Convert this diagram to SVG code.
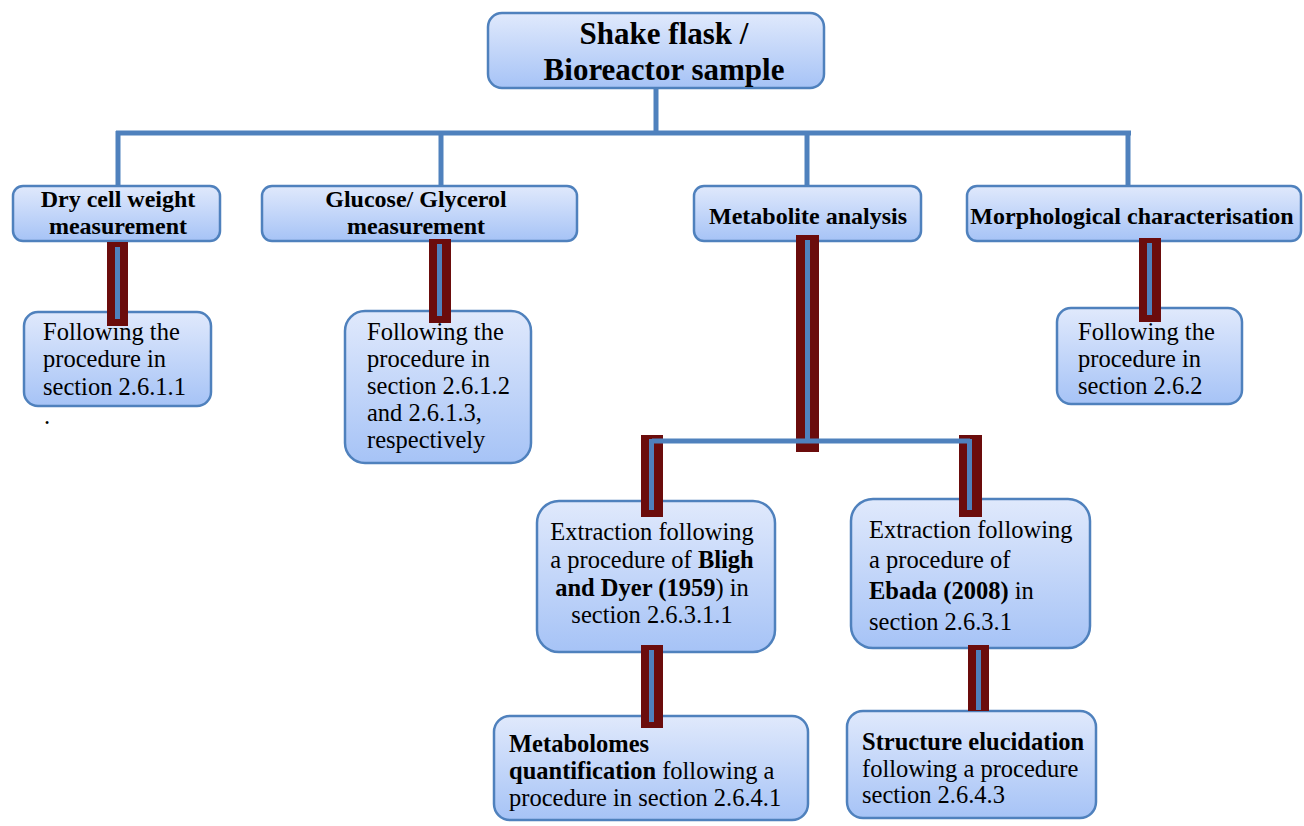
<svg xmlns="http://www.w3.org/2000/svg" width="1304" height="826" viewBox="0 0 1304 826">
<defs>
<linearGradient id="g" x1="0" y1="0" x2="0" y2="1">
<stop offset="0" stop-color="#e0e9fc"/>
<stop offset="1" stop-color="#a6c3f6"/>
</linearGradient>
<style>
.box{fill:url(#g);stroke:#4f81bd;stroke-width:2.5}
.t{font-family:"Liberation Serif","DejaVu Serif",serif;font-size:24.5px;fill:#000}
.h{font-family:"Liberation Serif","DejaVu Serif",serif;font-size:24px;font-weight:bold;fill:#000}
.title{font-family:"Liberation Serif","DejaVu Serif",serif;font-size:31px;font-weight:bold;fill:#000}
.b{font-weight:bold}
.ln{stroke:#4f81bd;stroke-width:5;fill:none}
.mr{fill:#6b0c0c}
.in{fill:#4f81bd}
</style>
</defs>
<rect width="1304" height="826" fill="#fff"/>

<g id="n-top">
<rect class="box" x="488" y="13" width="336" height="75" rx="14"/>
<text class="title" x="664" y="44" text-anchor="middle">Shake flask /</text>
<text class="title" x="664" y="80" text-anchor="middle">Bioreactor sample</text>
</g>

<g id="n-dry">
<rect class="box" x="13" y="186" width="207" height="55" rx="10"/>
<text class="h" x="118" y="207" text-anchor="middle">Dry cell weight</text>
<text class="h" x="118" y="234" text-anchor="middle">measurement</text>
</g>
<g id="n-glu">
<rect class="box" x="262" y="186" width="315" height="55" rx="10"/>
<text class="h" x="416" y="207" text-anchor="middle">Glucose/ Glycerol</text>
<text class="h" x="416" y="234" text-anchor="middle">measurement</text>
</g>
<g id="n-met">
<rect class="box" x="694" y="186" width="227" height="55" rx="10"/>
<text class="h" x="808" y="224" text-anchor="middle">Metabolite analysis</text>
</g>
<g id="n-mor">
<rect class="box" x="967" y="186" width="334" height="55" rx="10"/>
<text class="h" x="1132" y="224" text-anchor="middle">Morphological characterisation</text>
</g>

<g id="n-dry2">
<rect class="box" x="24" y="312" width="187" height="94" rx="14"/>
<text class="t" x="43" y="340">Following the</text>
<text class="t" x="43" y="367">procedure in</text>
<text class="t" x="43" y="395">section 2.6.1.1</text>
</g>
<text class="t" x="44" y="424">.</text>
<g id="n-glu2">
<rect class="box" x="345" y="311" width="186" height="152" rx="20"/>
<text class="t" x="367" y="340">Following the</text>
<text class="t" x="367" y="367">procedure in</text>
<text class="t" x="367" y="394">section 2.6.1.2</text>
<text class="t" x="367" y="421">and 2.6.1.3,</text>
<text class="t" x="367" y="448">respectively</text>
</g>
<g id="n-mor2">
<rect class="box" x="1057" y="308" width="185" height="96" rx="14"/>
<text class="t" x="1078" y="340">Following the</text>
<text class="t" x="1078" y="367">procedure in</text>
<text class="t" x="1078" y="394">section 2.6.2</text>
</g>

<g id="n-bligh">
<rect class="box" x="537" y="501" width="238" height="151" rx="22"/>
<text class="t" x="652" y="540" text-anchor="middle">Extraction following</text>
<text class="t" x="652" y="568" text-anchor="middle">a procedure of <tspan class="b">Bligh</tspan></text>
<text class="t" x="652" y="596" text-anchor="middle"><tspan class="b">and Dyer (1959</tspan>) in</text>
<text class="t" x="652" y="623" text-anchor="middle">section 2.6.3.1.1</text>
</g>
<g id="n-ebada">
<rect class="box" x="851" y="499" width="239" height="149" rx="22"/>
<text class="t" x="869" y="538">Extraction following</text>
<text class="t" x="869" y="568">a procedure of</text>
<text class="t" x="869" y="599"><tspan class="b">Ebada (2008)</tspan> in</text>
<text class="t" x="869" y="630">section 2.6.3.1</text>
</g>

<g id="n-quant">
<rect class="box" x="494" y="716" width="314" height="104" rx="16"/>
<text class="t" x="509" y="752"><tspan class="b">Metabolomes</tspan></text>
<text class="t" x="509" y="779"><tspan class="b">quantification</tspan> following a</text>
<text class="t" x="509" y="806">procedure in section 2.6.4.1</text>
</g>
<g id="n-struct">
<rect class="box" x="847" y="711" width="249" height="107" rx="16"/>
<text class="t" x="862" y="750"><tspan class="b">Structure elucidation</tspan></text>
<text class="t" x="862" y="777">following a procedure</text>
<text class="t" x="862" y="803">section 2.6.4.3</text>
</g>

<g id="connectors">
<path class="ln" d="M656 88V133M116 133H1131M118 131V187M441 131V187M807 131V187M1128 131V187"/>
<rect class="mr" x="107" y="242" width="21" height="84"/>
<rect class="in" x="115" y="247" width="5" height="72"/>
<rect class="mr" x="429" y="239" width="22" height="84"/>
<rect class="in" x="437" y="244" width="5" height="72"/>
<rect class="mr" x="1139" y="238" width="22" height="84"/>
<rect class="in" x="1147" y="243" width="5" height="72"/>
<rect class="mr" x="796" y="235" width="23" height="217"/>
<rect class="mr" x="641" y="435" width="22" height="82"/>
<rect class="mr" x="959" y="435" width="23" height="82"/>
<path class="ln" d="M652 441H970"/>
<rect class="in" x="805" y="240" width="5" height="200"/>
<rect class="in" x="649" y="439" width="5" height="71"/>
<rect class="in" x="967" y="439" width="5" height="71"/>
<rect class="mr" x="641" y="645" width="22" height="83"/>
<rect class="in" x="649" y="650" width="5" height="72"/>
<rect class="mr" x="968" y="645" width="21" height="66"/>
<rect class="in" x="976" y="650" width="5" height="60"/>
</g>
</svg>
